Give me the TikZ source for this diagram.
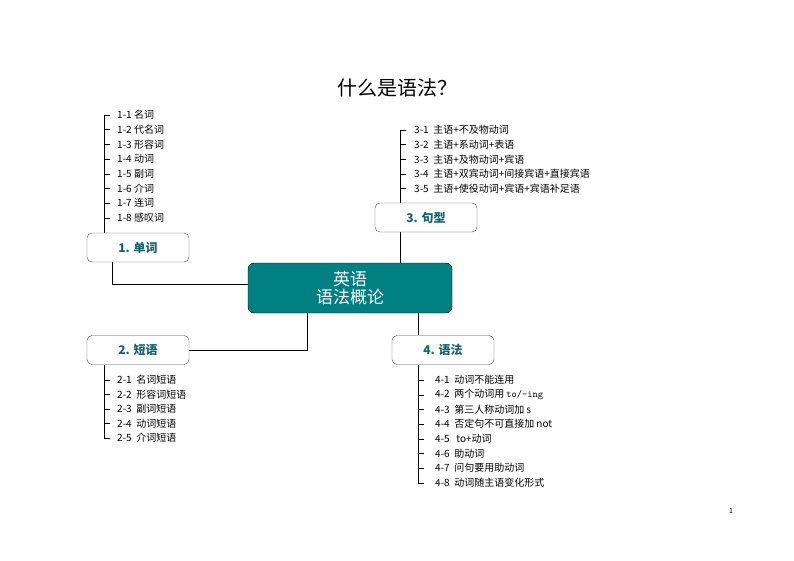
\documentclass[tikz,border=0pt]{standalone}
\usepackage{fontspec}
\setmainfont{Noto Sans CJK SC}
\usetikzlibrary{positioning}
\definecolor{teal1}{RGB}{0,128,128}
\definecolor{tealtxt}{RGB}{20,100,110}

\begin{document}
\begin{tikzpicture}[
    x=1pt,y=-1pt,
    thin,
    hub/.style={draw=black,fill=teal1,rounded corners=6pt,minimum width=204pt,minimum height=50pt,
      text=white,font=\fontsize{17}{18}\selectfont,align=center,inner sep=0pt},
    topic/.style={draw=black!70,fill=white,rounded corners=5pt,minimum width=102pt,minimum height=29pt,
      text=tealtxt,font=\fontsize{12}{14}\selectfont\bfseries,inner sep=0pt},
    item/.style={anchor=west,inner sep=0pt,font=\fontsize{10}{11}\selectfont},
  ]
  \useasboundingbox (0,0) rectangle (794,561);

  \node (title) at (397,88) [font=\fontsize{20}{22}\selectfont] {什么是语法？};
  \node (pg) at (731,511) [font=\fontsize{7}{8}\selectfont] {1};

  \node (hub) at (350,288) [hub] {英语\\语法概论};

  \node (t-1) at (138,247.5) [topic] {1. 单词};
  \node (t-2) at (138,350) [topic] {2. 短语};
  \node (t-3) at (426,217.5) [topic] {3. 句型};
  \node (t-4) at (443,350) [topic] {4. 语法};

  % topics to the hub
  \draw ([xshift=-26pt]t-1.south) |- ([yshift=4pt]hub.west);
  \draw ([xshift=-26pt]t-3.south) -- ([xshift=50pt]hub.north);
  \draw (t-2.east) -| ([xshift=-43pt]hub.south);
  \draw ([xshift=68pt]hub.south) -- ([xshift=-25pt]t-4.north);

  % 1. words
  \coordinate (l-1) at (104,115);
  \draw (l-1) -- ([xshift=-34pt]t-1.north);
  \foreach \t [count=\i] in {名词,代名词,形容词,动词,副词,介词,连词,感叹词}
  {
    \pgfmathsetmacro{\y}{115+(\i-1)*14.7}
    \coordinate (a-\i) at (104,\y);
    \node (w-\i) at (117,\y) [item] {1-\i\ \t};
    \draw (a-\i) -- ++(6,0);
  }

  % 3. sentence patterns
  \coordinate (l-3) at (400,130);
  \draw (l-3) -- ([xshift=-26pt]t-3.north);
  \foreach \t [count=\i] in {主语+不及物动词,主语+系动词+表语,主语+及物动词+宾语,主语+双宾动词+间接宾语+直接宾语,主语+使役动词+宾语+宾语补足语}
  {
    \pgfmathsetmacro{\y}{130+(\i-1)*14.6}
    \coordinate (c-\i) at (400,\y);
    \node (s-\i) at (414,\y) [item] {3-\i\ \ \t};
    \draw (c-\i) -- ++(6,0);
  }

  % 2. phrases
  \coordinate (l-2) at (104,438);
  \draw ([xshift=-34pt]t-2.south) -- (l-2);
  \foreach \t [count=\i] in {名词短语,形容词短语,副词短语,动词短语,介词短语}
  {
    \pgfmathsetmacro{\y}{380+(\i-1)*14.5}
    \coordinate (b-\i) at (104,\y);
    \node (p-\i) at (117,\y) [item] {2-\i\ \ \t};
    \draw (b-\i) -- ++(6,0);
  }

  % 4. grammar
  \coordinate (l-4) at (418,483);
  \draw ([xshift=-25pt]t-4.south) -- (l-4);
  \foreach \t [count=\i] in {动词不能连用,两个动词用 {\ttfamily to/-ing},第三人称动词加 s,否定句不可直接加 not,\ to+动词,助动词,问句要用助动词,动词随主语变化形式}
  {
    \pgfmathsetmacro{\y}{380+(\i-1)*14.7}
    \coordinate (d-\i) at (418,\y);
    \node (g-\i) at (435,\y) [item] {4-\i\ \ \t};
    \draw (d-\i) -- ++(6,0);
  }

\end{tikzpicture}
\end{document}
